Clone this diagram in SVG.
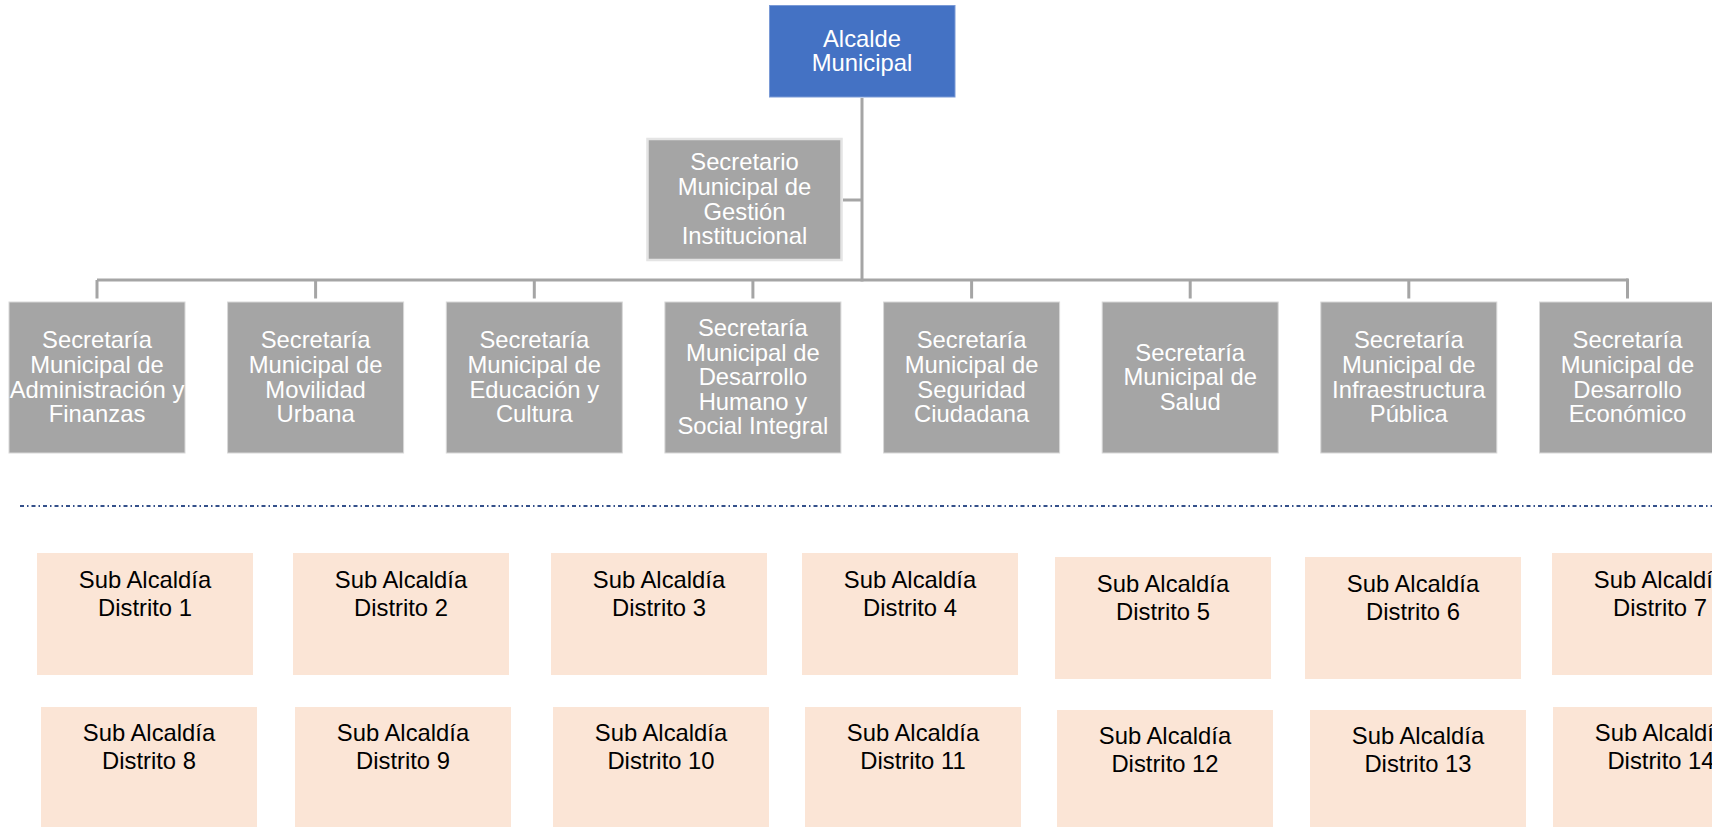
<svg xmlns="http://www.w3.org/2000/svg" width="1712" height="827" viewBox="0 0 1712 827">
<style>
.t{font-family:"Liberation Sans",Arial,sans-serif;font-size:23.8px;text-anchor:middle}
.w{fill:#ffffff}
.k{fill:#000000}
.sec{fill:#a5a5a5;stroke:#d8d8d8;stroke-width:1}
.sub{fill:#fbe5d6}
.conn{stroke:#a5a5a5;stroke-width:3;fill:none}
</style>
<rect width="1712" height="827" fill="#ffffff"/>
<g id="connectors">
<line class="conn" x1="862" y1="98" x2="862" y2="281.5"/>
<line class="conn" x1="843" y1="200" x2="862" y2="200"/>
<line class="conn" x1="97" y1="280" x2="1628" y2="280"/>
<line class="conn" x1="97" y1="280" x2="97" y2="298.5"/>
<line class="conn" x1="315.6" y1="280" x2="315.6" y2="298.5"/>
<line class="conn" x1="534.3" y1="280" x2="534.3" y2="298.5"/>
<line class="conn" x1="752.9" y1="280" x2="752.9" y2="298.5"/>
<line class="conn" x1="971.6" y1="280" x2="971.6" y2="298.5"/>
<line class="conn" x1="1190.2" y1="280" x2="1190.2" y2="298.5"/>
<line class="conn" x1="1408.8" y1="280" x2="1408.8" y2="298.5"/>
<line class="conn" x1="1627.5" y1="278.5" x2="1627.5" y2="298.5"/>
</g>
<g id="alcalde">
<rect x="769.5" y="5.5" width="185.5" height="91.5" fill="#4472c4" stroke="#7a9ad6" stroke-width="1"/>
<text class="t w" x="862" y="46.5">Alcalde</text>
<text class="t w" x="862" y="71">Municipal</text>
</g>
<g id="secretario-gestion">
<rect x="647.5" y="139" width="194" height="121" fill="#a5a5a5" stroke="#e4e4e4" stroke-width="2.5"/>
<text class="t w" x="744.5" y="170.3">Secretario</text>
<text class="t w" x="744.5" y="194.9">Municipal de</text>
<text class="t w" x="744.5" y="219.5">Gestión</text>
<text class="t w" x="744.5" y="244.1">Institucional</text>
</g>
<g id="sec-administracion">
<rect class="sec" x="9" y="302" width="176" height="151"/>
<text class="t w" x="97" y="348.3">Secretaría</text>
<text class="t w" x="97" y="372.9">Municipal de</text>
<text class="t w" x="97" y="397.5">Administración y</text>
<text class="t w" x="97" y="422.1">Finanzas</text>
</g>
<g id="sec-movilidad">
<rect class="sec" x="227.6" y="302" width="176" height="151"/>
<text class="t w" x="315.6" y="348.3">Secretaría</text>
<text class="t w" x="315.6" y="372.9">Municipal de</text>
<text class="t w" x="315.6" y="397.5">Movilidad</text>
<text class="t w" x="315.6" y="422.1">Urbana</text>
</g>
<g id="sec-educacion">
<rect class="sec" x="446.3" y="302" width="176" height="151"/>
<text class="t w" x="534.3" y="348.3">Secretaría</text>
<text class="t w" x="534.3" y="372.9">Municipal de</text>
<text class="t w" x="534.3" y="397.5">Educación y</text>
<text class="t w" x="534.3" y="422.1">Cultura</text>
</g>
<g id="sec-desarrollo-humano">
<rect class="sec" x="664.9" y="302" width="176" height="151"/>
<text class="t w" x="752.9" y="336">Secretaría</text>
<text class="t w" x="752.9" y="360.6">Municipal de</text>
<text class="t w" x="752.9" y="385.2">Desarrollo</text>
<text class="t w" x="752.9" y="409.8">Humano y</text>
<text class="t w" x="752.9" y="434.4">Social Integral</text>
</g>
<g id="sec-seguridad">
<rect class="sec" x="883.6" y="302" width="176" height="151"/>
<text class="t w" x="971.6" y="348.3">Secretaría</text>
<text class="t w" x="971.6" y="372.9">Municipal de</text>
<text class="t w" x="971.6" y="397.5">Seguridad</text>
<text class="t w" x="971.6" y="422.1">Ciudadana</text>
</g>
<g id="sec-salud">
<rect class="sec" x="1102.2" y="302" width="176" height="151"/>
<text class="t w" x="1190.2" y="360.6">Secretaría</text>
<text class="t w" x="1190.2" y="385.2">Municipal de</text>
<text class="t w" x="1190.2" y="409.8">Salud</text>
</g>
<g id="sec-infraestructura">
<rect class="sec" x="1320.8" y="302" width="176" height="151"/>
<text class="t w" x="1408.8" y="348.3">Secretaría</text>
<text class="t w" x="1408.8" y="372.9">Municipal de</text>
<text class="t w" x="1408.8" y="397.5">Infraestructura</text>
<text class="t w" x="1408.8" y="422.1">Pública</text>
</g>
<g id="sec-desarrollo-economico">
<rect class="sec" x="1539.5" y="302" width="176" height="151"/>
<text class="t w" x="1627.5" y="348.3">Secretaría</text>
<text class="t w" x="1627.5" y="372.9">Municipal de</text>
<text class="t w" x="1627.5" y="397.5">Desarrollo</text>
<text class="t w" x="1627.5" y="422.1">Económico</text>
</g>
<line id="separador" x1="20" y1="506" x2="1712" y2="506" stroke="#34508a" stroke-width="1.8" stroke-dasharray="4 3 1.5 3"/>
<g id="d1"><rect class="sub" x="37" y="553" width="216" height="122"/><text class="t k" x="145" y="587.7">Sub Alcaldía</text><text class="t k" x="145" y="615.7">Distrito 1</text></g>
<g id="d2"><rect class="sub" x="293" y="553" width="216" height="122"/><text class="t k" x="401" y="587.7">Sub Alcaldía</text><text class="t k" x="401" y="615.7">Distrito 2</text></g>
<g id="d3"><rect class="sub" x="551" y="553" width="216" height="122"/><text class="t k" x="659" y="587.7">Sub Alcaldía</text><text class="t k" x="659" y="615.7">Distrito 3</text></g>
<g id="d4"><rect class="sub" x="802" y="553" width="216" height="122"/><text class="t k" x="910" y="587.7">Sub Alcaldía</text><text class="t k" x="910" y="615.7">Distrito 4</text></g>
<g id="d5"><rect class="sub" x="1055" y="557" width="216" height="122"/><text class="t k" x="1163" y="591.7">Sub Alcaldía</text><text class="t k" x="1163" y="619.7">Distrito 5</text></g>
<g id="d6"><rect class="sub" x="1305" y="557" width="216" height="122"/><text class="t k" x="1413" y="591.7">Sub Alcaldía</text><text class="t k" x="1413" y="619.7">Distrito 6</text></g>
<g id="d7"><rect class="sub" x="1552" y="553" width="216" height="122"/><text class="t k" x="1660" y="587.7">Sub Alcaldía</text><text class="t k" x="1660" y="615.7">Distrito 7</text></g>
<g id="d8"><rect class="sub" x="41" y="707" width="216" height="122"/><text class="t k" x="149" y="741">Sub Alcaldía</text><text class="t k" x="149" y="769.3">Distrito 8</text></g>
<g id="d9"><rect class="sub" x="295" y="707" width="216" height="122"/><text class="t k" x="403" y="741">Sub Alcaldía</text><text class="t k" x="403" y="769.3">Distrito 9</text></g>
<g id="d10"><rect class="sub" x="553" y="707" width="216" height="122"/><text class="t k" x="661" y="741">Sub Alcaldía</text><text class="t k" x="661" y="769.3">Distrito 10</text></g>
<g id="d11"><rect class="sub" x="805" y="707" width="216" height="122"/><text class="t k" x="913" y="741">Sub Alcaldía</text><text class="t k" x="913" y="769.3">Distrito 11</text></g>
<g id="d12"><rect class="sub" x="1057" y="710" width="216" height="122"/><text class="t k" x="1165" y="744">Sub Alcaldía</text><text class="t k" x="1165" y="772.3">Distrito 12</text></g>
<g id="d13"><rect class="sub" x="1310" y="710" width="216" height="122"/><text class="t k" x="1418" y="744">Sub Alcaldía</text><text class="t k" x="1418" y="772.3">Distrito 13</text></g>
<g id="d14"><rect class="sub" x="1553" y="707" width="216" height="122"/><text class="t k" x="1661" y="741">Sub Alcaldía</text><text class="t k" x="1661" y="769.3">Distrito 14</text></g>
</svg>
